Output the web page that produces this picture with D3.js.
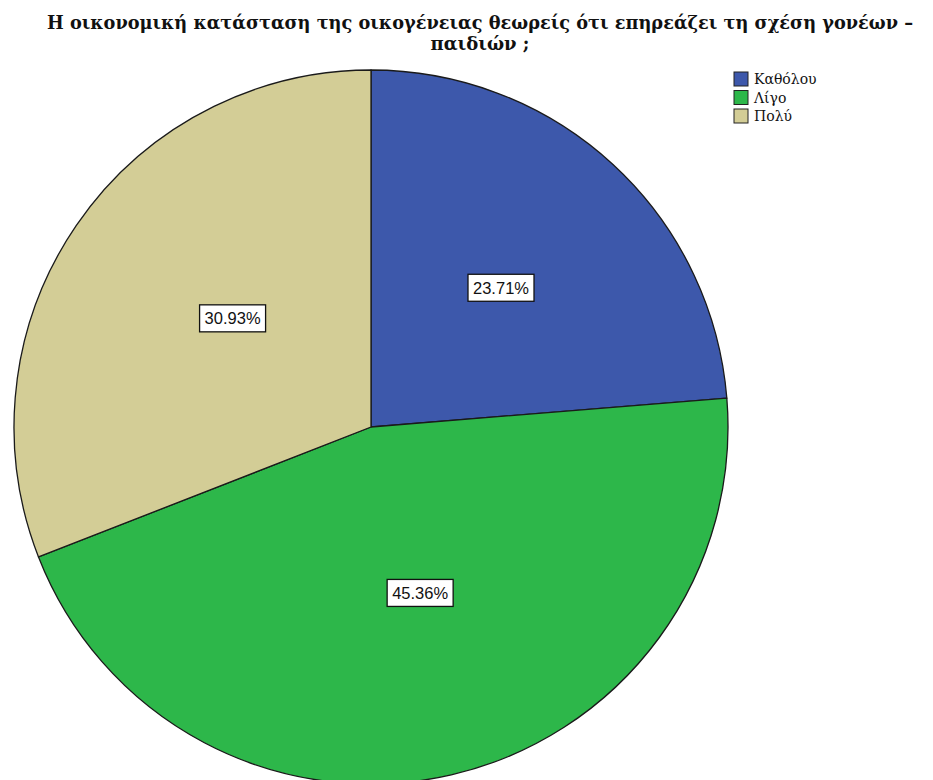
<!DOCTYPE html>
<html>
<head>
<meta charset="utf-8">
<script src="https://cdn.jsdelivr.net/npm/d3@7"></script>
<style>
  html, body { margin: 0; padding: 0; background: #fff; }
</style>
</head>
<body>
<svg id="chart" width="933" height="780"></svg>
<script>
const categories = ["Καθόλου", "Λίγο", "Πολύ"];
const values = [23.71, 45.36, 30.93];
const colors = ["#3d58ab", "#2db74a", "#d3cd96"];
const titleLines = ["Η οικονομική κατάσταση της οικογένειας θεωρείς ότι επηρεάζει τη σχέση γονέων –", "παιδιών ;"];

const svg = d3.select("#chart");
const cx = 371, cy = 427, R = 357;

const data = categories.map((c, i) => ({ cat: c, value: values[i], color: colors[i] }));
const pie = d3.pie().value(d => d.value).sort(null);
const arcs = pie(data);
const arc = d3.arc().innerRadius(0).outerRadius(R);
const labelArc = d3.arc().innerRadius(R * 0.5).outerRadius(R * 0.5);

const g = svg.append("g").attr("transform", `translate(${cx},${cy})`);
g.selectAll("path.slice").data(arcs).enter().append("path")
  .attr("class", "slice")
  .attr("d", arc)
  .attr("fill", d => d.data.color)
  .attr("stroke", "#1a1a1a")
  .attr("stroke-width", 1.3)
  .attr("stroke-linejoin", "round");

const lbl = g.selectAll("g.lbl").data(arcs).enter().append("g")
  .attr("class", "lbl")
  .attr("transform", d => { const [x, y] = labelArc.centroid(d); return `translate(${x + 9},${y - 8})`; });
lbl.append("rect")
  .attr("x", -33).attr("y", -13.5).attr("width", 66).attr("height", 27)
  .attr("fill", "#fff").attr("stroke", "#111").attr("stroke-width", 1.3);
lbl.append("text")
  .attr("text-anchor", "middle").attr("dy", "0.36em")
  .attr("font-family", "'Liberation Sans', Arial, sans-serif")
  .attr("font-size", 16.5).attr("fill", "#111")
  .text(d => d.data.value.toFixed(2) + "%");

// Title
svg.selectAll("text.title").data(titleLines).enter().append("text")
  .attr("class", "title")
  .attr("x", 480).attr("y", (d, i) => 29 + i * 21)
  .attr("text-anchor", "middle")
  .attr("font-family", "'DejaVu Serif', 'Liberation Serif', serif")
  .attr("font-weight", "bold").attr("font-size", 18).attr("fill", "#111")
  .each(function(d, i) { if (i === 0) d3.select(this).attr("textLength", 866).attr("lengthAdjust", "spacingAndGlyphs"); })
  .text(d => d);

// Legend
const leg = svg.append("g").attr("transform", "translate(734,72)");
const li = leg.selectAll("g").data(data).enter().append("g")
  .attr("transform", (d, i) => `translate(0,${i * 18.5})`);
li.append("rect").attr("width", 14).attr("height", 14)
  .attr("fill", d => d.color).attr("stroke", "#222").attr("stroke-width", 1);
li.append("text").attr("x", 20).attr("y", 12)
  .attr("font-family", "'DejaVu Serif', 'Liberation Serif', serif")
  .attr("font-size", 14).attr("fill", "#111")
  .text(d => d.cat);
</script>
</body>
</html>
